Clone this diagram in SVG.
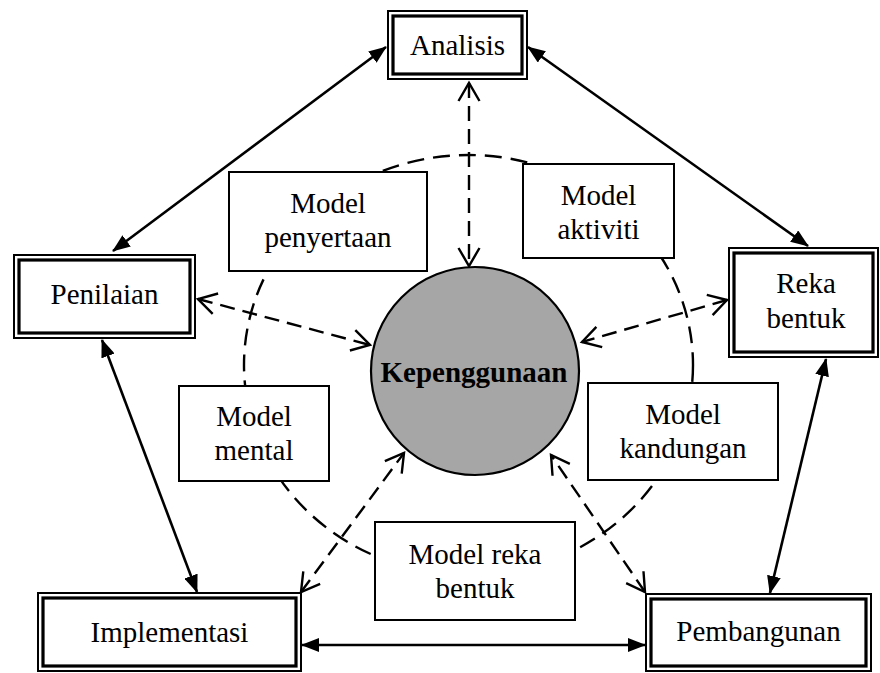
<svg xmlns="http://www.w3.org/2000/svg" width="880" height="673" viewBox="0 0 880 673">
  <style>
    .txt { font-family: "Liberation Serif", "Times New Roman", serif; font-size: 29px; fill: #000; text-anchor: middle; }
    .bold { font-weight: bold; }
    .outer { fill: #fff; stroke: #000; stroke-width: 2; }
    .inner { fill: none; stroke: #000; stroke-width: 3.2; }
    .model { fill: #fff; stroke: #000; stroke-width: 2; }
    .solid { fill: none; stroke: #000; stroke-width: 2.6; marker-start: url(#headFilled); marker-end: url(#headFilled); }
    .dash { fill: none; stroke: #000; stroke-width: 2.4; stroke-dasharray: 15 8; marker-start: url(#headOpen); marker-end: url(#headOpen); }
    .ring { fill: none; stroke: #000; stroke-width: 2.4; stroke-dasharray: 17 9; }
  </style>
  <defs>
    <marker id="headFilled" viewBox="0 0 18 14" refX="17" refY="7" markerWidth="18" markerHeight="14" markerUnits="userSpaceOnUse" orient="auto-start-reverse">
      <path d="M0,0 L18,7 L0,14 z" fill="#000" stroke="none"/>
    </marker>
    <marker id="headOpen" viewBox="-2 -2 23 25" refX="18" refY="10.5" markerWidth="23" markerHeight="25" markerUnits="userSpaceOnUse" orient="auto-start-reverse">
      <path d="M0,0 L18,10.5 L0,21" fill="none" stroke="#000" stroke-width="2.4" stroke-dasharray="none"/>
    </marker>
  </defs>

  <!-- dashed ring around the centre -->
  <ellipse class="ring" cx="468.5" cy="365" rx="224.5" ry="210"/>

  <!-- connectors -->
  <g id="connectors">
    <line class="solid" x1="386" y1="47" x2="113" y2="251"/>
    <line class="solid" x1="528" y1="47" x2="808" y2="246"/>
    <line class="solid" x1="102" y1="340" x2="197" y2="592"/>
    <line class="solid" x1="826" y1="359" x2="770" y2="593"/>
    <line class="solid" x1="302" y1="645" x2="645" y2="645"/>

    <line class="dash" x1="469" y1="83" x2="469" y2="266"/>
    <line class="dash" x1="198" y1="299" x2="370" y2="345"/>
    <line class="dash" x1="727" y1="300" x2="582" y2="342"/>
    <line class="dash" x1="301" y1="592" x2="404" y2="453"/>
    <line class="dash" x1="645" y1="592" x2="551" y2="455"/>
  </g>

  <!-- model boxes on the ring -->
  <g id="model-penyertaan">
    <rect class="model" x="229" y="172" width="198" height="99"/>
    <text class="txt" x="328" y="213">Model</text>
    <text class="txt" x="328" y="247">penyertaan</text>
  </g>
  <g id="model-aktiviti">
    <rect class="model" x="523" y="164" width="151" height="94"/>
    <text class="txt" x="598.5" y="205">Model</text>
    <text class="txt" x="598.5" y="239">aktiviti</text>
  </g>
  <g id="model-mental">
    <rect class="model" x="179" y="386" width="150" height="95"/>
    <text class="txt" x="254" y="426">Model</text>
    <text class="txt" x="254" y="460">mental</text>
  </g>
  <g id="model-kandungan">
    <rect class="model" x="588" y="383" width="190" height="97"/>
    <text class="txt" x="683" y="424">Model</text>
    <text class="txt" x="683" y="458">kandungan</text>
  </g>
  <g id="model-reka-bentuk">
    <rect class="model" x="375" y="522" width="200" height="98"/>
    <text class="txt" x="475" y="564">Model reka</text>
    <text class="txt" x="475" y="598">bentuk</text>
  </g>

  <!-- centre -->
  <g id="kepenggunaan">
    <circle cx="475" cy="371" r="104" fill="#a6a6a6" stroke="#000" stroke-width="2.2"/>
    <text class="txt bold" x="474" y="382">Kepenggunaan</text>
  </g>

  <!-- phase boxes -->
  <g id="analisis">
    <rect class="outer" x="388" y="11" width="139" height="68"/>
    <rect class="inner" x="393" y="16" width="129" height="58"/>
    <text class="txt" x="457.5" y="55">Analisis</text>
  </g>
  <g id="penilaian">
    <rect class="outer" x="14" y="255" width="181" height="83"/>
    <rect class="inner" x="19" y="260" width="171" height="73"/>
    <text class="txt" x="104.5" y="304">Penilaian</text>
  </g>
  <g id="reka-bentuk">
    <rect class="outer" x="729" y="248" width="149" height="109"/>
    <rect class="inner" x="734" y="253" width="139" height="99"/>
    <text class="txt" x="806" y="293">Reka</text>
    <text class="txt" x="806" y="328">bentuk</text>
  </g>
  <g id="implementasi">
    <rect class="outer" x="38" y="593" width="263" height="78"/>
    <rect class="inner" x="43" y="598" width="253" height="68"/>
    <text class="txt" x="169.5" y="642">Implementasi</text>
  </g>
  <g id="pembangunan">
    <rect class="outer" x="646" y="594" width="225" height="77"/>
    <rect class="inner" x="651" y="599" width="215" height="67"/>
    <text class="txt" x="758.5" y="641">Pembangunan</text>
  </g>
</svg>
